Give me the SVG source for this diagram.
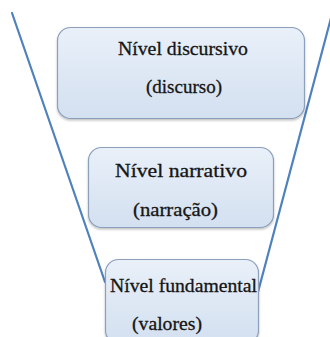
<svg xmlns="http://www.w3.org/2000/svg" width="330" height="337" viewBox="0 0 330 337">
<defs>
<linearGradient id="g" x1="0" y1="0" x2="0" y2="1">
<stop offset="0" stop-color="#e9f0f9"/>
<stop offset="1" stop-color="#d3e0f0"/>
</linearGradient>
<filter id="sh" x="-10%" y="-10%" width="120%" height="130%">
<feDropShadow dx="0" dy="1.5" stdDeviation="1.2" flood-color="#000" flood-opacity="0.25"/>
</filter>
<style>
.box{fill:url(#g);stroke:#8c9fbb;stroke-width:1.2;filter:url(#sh)}
.t{font-family:"Liberation Serif","DejaVu Serif",serif;font-size:19px;fill:#151515;stroke:#151515;stroke-width:0.3}
.ln{stroke:#4f81bd;stroke-width:2.2;fill:none;stroke-linecap:round}
</style>
</defs>
<rect width="330" height="337" fill="#fff"/>
<g id="connectors">
<line class="ln" x1="12" y1="13" x2="105" y2="282"/>
<line class="ln" x1="331" y1="18" x2="258" y2="292"/>
</g>
<g id="discursivo">
<rect class="box" x="57.5" y="27.5" width="247" height="91" rx="13"/>
<text class="t" x="118" y="55" textLength="130" lengthAdjust="spacingAndGlyphs">Nível discursivo</text>
<text class="t" x="146" y="93" textLength="76" lengthAdjust="spacingAndGlyphs">(discurso)</text>
</g>
<g id="narrativo">
<rect class="box" x="88.5" y="147.5" width="185" height="80" rx="13"/>
<text class="t" x="115" y="177" textLength="132" lengthAdjust="spacingAndGlyphs">Nível narrativo</text>
<text class="t" x="133" y="216" textLength="85" lengthAdjust="spacingAndGlyphs">(narração)</text>
</g>
<g id="fundamental">
<rect class="box" x="105.5" y="259.5" width="153" height="84" rx="13"/>
<text class="t" x="110" y="292" textLength="147" lengthAdjust="spacingAndGlyphs">Nível fundamental</text>
<text class="t" x="132" y="330" textLength="70" lengthAdjust="spacingAndGlyphs">(valores)</text>
</g>
</svg>
